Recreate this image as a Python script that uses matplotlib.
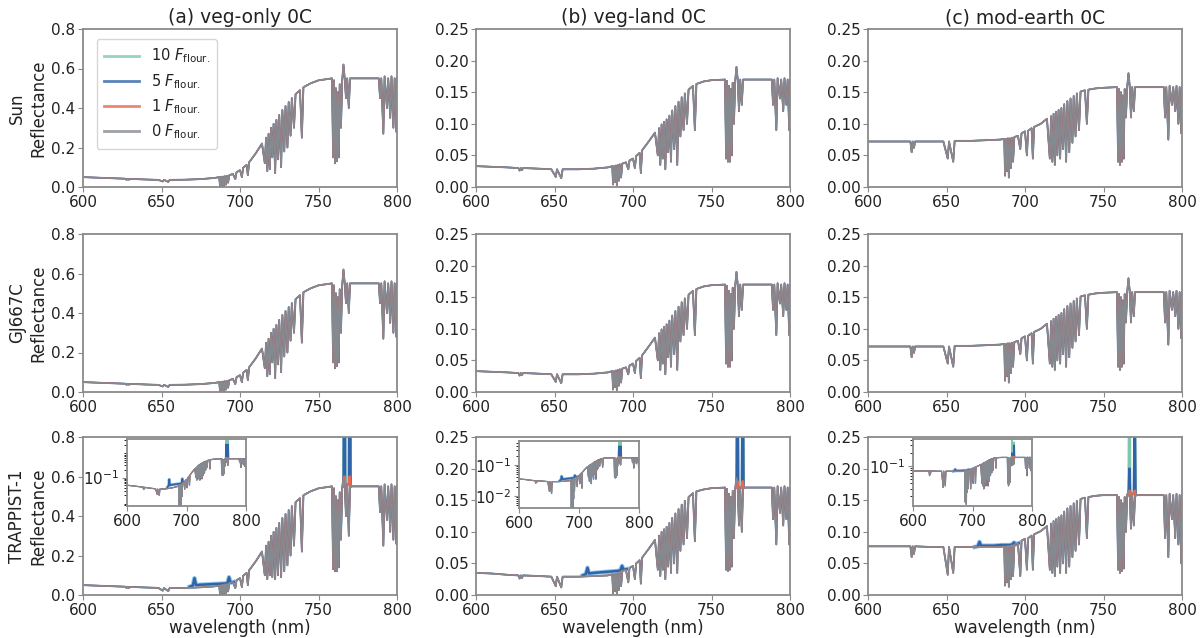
import matplotlib
matplotlib.use('Agg')
import matplotlib.pyplot as plt
from matplotlib.ticker import NullFormatter

# wavelength grid (nm), continuum points with absorption-line points in between
wl = [600, 610, 620, 627, 627.8, 628.5, 629.3, 630, 640, 648,
      650.8, 651.6, 654.3, 655.2, 665, 675, 684, 686.8, 687.3, 687.9,
      688.5, 689.1, 689.7, 690.3, 691.0, 691.6, 692.4, 693.2, 695.5, 697.0,
      697.8, 700, 701.2, 702, 704.2, 705.0, 705.8, 710, 714, 715.8,
      716.6, 717.4, 718.2, 719.0, 719.8, 720.6, 721.4, 722.4, 723.2, 724.2,
      725.0, 726.2, 727.0, 728.2, 729.0, 730.2, 731.0, 732.2, 733.0, 734.4,
      735.4, 738.2, 739.4, 740.4, 745, 750, 758.6, 759.3, 759.9, 760.5,
      761.1, 761.7, 762.3, 762.9, 763.5, 764.3, 765.1, 765.9, 766.7, 767.5,
      768.3, 769.3, 770.1, 775, 785, 788.4, 789.2, 790, 791.3, 792.1,
      793.6, 794.4, 795.7, 796.5, 797.7, 798.5, 799.5, 800]

# Sun / GJ667C rows
refl_veg_only = [0.050, 0.047, 0.044, 0.042, 0.036, 0.042, 0.037, 0.041, 0.038, 0.036,
                 0.028, 0.036, 0.026, 0.036, 0.037, 0.040, 0.046, 0.050, 0.002, 0.051,
                 0.006, 0.053, 0.001, 0.055, 0.012, 0.057, 0.022, 0.060, 0.066, 0.040,
                 0.075, 0.085, 0.050, 0.097, 0.112, 0.060, 0.125, 0.170, 0.220, 0.120,
                 0.250, 0.080, 0.270, 0.090, 0.300, 0.150, 0.320, 0.070, 0.340, 0.140,
                 0.365, 0.100, 0.390, 0.180, 0.410, 0.200, 0.430, 0.260, 0.450, 0.300,
                 0.470, 0.490, 0.250, 0.505, 0.525, 0.540, 0.550, 0.150, 0.540, 0.120,
                 0.500, 0.130, 0.480, 0.150, 0.520, 0.300, 0.540, 0.620, 0.550, 0.450,
                 0.550, 0.400, 0.550, 0.550, 0.550, 0.550, 0.450, 0.550, 0.270, 0.560,
                 0.400, 0.550, 0.350, 0.560, 0.300, 0.550, 0.280, 0.550]

refl_veg_land = [0.033, 0.032, 0.031, 0.030, 0.026, 0.030, 0.027, 0.030, 0.029, 0.028,
                 0.016, 0.028, 0.014, 0.028, 0.028, 0.029, 0.031, 0.033, 0.004, 0.033,
                 0.008, 0.034, 0.003, 0.035, 0.010, 0.036, 0.015, 0.037, 0.039, 0.028,
                 0.042, 0.045, 0.030, 0.049, 0.054, 0.022, 0.058, 0.072, 0.086, 0.050,
                 0.093, 0.035, 0.099, 0.045, 0.103, 0.028, 0.107, 0.055, 0.113, 0.040,
                 0.121, 0.060, 0.128, 0.035, 0.135, 0.080, 0.142, 0.090, 0.148, 0.100,
                 0.154, 0.160, 0.090, 0.163, 0.167, 0.169, 0.170, 0.045, 0.168, 0.040,
                 0.160, 0.040, 0.155, 0.050, 0.165, 0.100, 0.168, 0.190, 0.170, 0.120,
                 0.170, 0.130, 0.170, 0.170, 0.170, 0.170, 0.130, 0.170, 0.090, 0.172,
                 0.140, 0.170, 0.120, 0.172, 0.130, 0.170, 0.090, 0.170]

refl_mod_earth = [0.072, 0.072, 0.072, 0.072, 0.055, 0.072, 0.062, 0.072, 0.072, 0.072,
                  0.045, 0.072, 0.040, 0.073, 0.073, 0.074, 0.075, 0.076, 0.018, 0.076,
                  0.025, 0.077, 0.015, 0.077, 0.030, 0.078, 0.040, 0.079, 0.081, 0.060,
                  0.085, 0.088, 0.050, 0.089, 0.093, 0.045, 0.095, 0.100, 0.108, 0.045,
                  0.112, 0.040, 0.116, 0.035, 0.119, 0.050, 0.122, 0.045, 0.125, 0.060,
                  0.131, 0.040, 0.136, 0.055, 0.140, 0.070, 0.144, 0.080, 0.148, 0.090,
                  0.151, 0.153, 0.100, 0.154, 0.156, 0.157, 0.158, 0.040, 0.155, 0.035,
                  0.150, 0.040, 0.145, 0.045, 0.155, 0.110, 0.158, 0.180, 0.160, 0.110,
                  0.158, 0.120, 0.158, 0.158, 0.158, 0.158, 0.110, 0.158, 0.075, 0.160,
                  0.130, 0.158, 0.120, 0.160, 0.100, 0.158, 0.085, 0.158]

# TRAPPIST-1 row
trap_veg_only = [0.050, 0.047, 0.044, 0.042, 0.035, 0.042, 0.036, 0.041, 0.038, 0.036,
                 0.022, 0.035, 0.020, 0.035, 0.036, 0.039, 0.044, 0.048, 0.001, 0.050,
                 0.004, 0.052, 0.001, 0.054, 0.008, 0.056, 0.018, 0.060, 0.066, 0.035,
                 0.075, 0.085, 0.040, 0.097, 0.112, 0.050, 0.125, 0.170, 0.220, 0.100,
                 0.250, 0.080, 0.270, 0.100, 0.300, 0.090, 0.320, 0.080, 0.340, 0.100,
                 0.365, 0.090, 0.390, 0.120, 0.410, 0.150, 0.430, 0.200, 0.450, 0.250,
                 0.470, 0.490, 0.220, 0.505, 0.525, 0.540, 0.550, 0.130, 0.540, 0.120,
                 0.500, 0.120, 0.480, 0.140, 0.520, 0.280, 0.540, 0.600, 0.560, 0.400,
                 0.560, 0.300, 0.550, 0.550, 0.550, 0.550, 0.420, 0.550, 0.250, 0.560,
                 0.380, 0.550, 0.320, 0.560, 0.280, 0.550, 0.260, 0.550]

trap_veg_land = [0.035, 0.034, 0.032, 0.031, 0.026, 0.031, 0.027, 0.031, 0.030, 0.029,
                 0.014, 0.029, 0.012, 0.029, 0.029, 0.030, 0.031, 0.033, 0.003, 0.033,
                 0.006, 0.034, 0.002, 0.035, 0.008, 0.036, 0.014, 0.038, 0.040, 0.020,
                 0.043, 0.046, 0.025, 0.050, 0.055, 0.018, 0.059, 0.073, 0.087, 0.040,
                 0.094, 0.030, 0.100, 0.040, 0.104, 0.025, 0.108, 0.045, 0.114, 0.035,
                 0.122, 0.050, 0.129, 0.035, 0.136, 0.070, 0.143, 0.080, 0.149, 0.090,
                 0.155, 0.161, 0.085, 0.164, 0.167, 0.169, 0.170, 0.040, 0.168, 0.038,
                 0.160, 0.040, 0.155, 0.045, 0.165, 0.090, 0.168, 0.185, 0.170, 0.110,
                 0.170, 0.100, 0.170, 0.170, 0.170, 0.170, 0.120, 0.170, 0.080, 0.172,
                 0.130, 0.170, 0.110, 0.172, 0.120, 0.170, 0.080, 0.170]

trap_mod_earth = [0.077, 0.077, 0.077, 0.077, 0.060, 0.077, 0.065, 0.077, 0.076, 0.076,
                  0.032, 0.076, 0.035, 0.076, 0.076, 0.076, 0.076, 0.077, 0.015, 0.077,
                  0.020, 0.078, 0.013, 0.078, 0.025, 0.079, 0.030, 0.080, 0.082, 0.030,
                  0.086, 0.089, 0.040, 0.090, 0.094, 0.040, 0.096, 0.101, 0.109, 0.040,
                  0.113, 0.035, 0.117, 0.030, 0.120, 0.045, 0.123, 0.035, 0.126, 0.050,
                  0.132, 0.035, 0.137, 0.045, 0.141, 0.060, 0.145, 0.070, 0.149, 0.080,
                  0.152, 0.154, 0.090, 0.155, 0.157, 0.158, 0.158, 0.040, 0.155, 0.035,
                  0.150, 0.038, 0.145, 0.042, 0.155, 0.100, 0.158, 0.165, 0.160, 0.105,
                  0.158, 0.110, 0.158, 0.158, 0.158, 0.158, 0.090, 0.158, 0.060, 0.160,
                  0.120, 0.158, 0.090, 0.160, 0.080, 0.158, 0.050, 0.158]

# fluorescence features seen only for TRAPPIST-1 (K I lines and 670-695 nm excess)
spike_wl = [766.0, 766.5, 767.0, 769.4, 769.9, 770.4]
spike_veg_only = {'10': [0.55, 3.0, 0.56, 0.56, 3.0, 0.55],
                  '5': [0.55, 2.0, 0.56, 0.56, 2.0, 0.55],
                  '1': [0.55, 0.60, 0.56, 0.56, 0.60, 0.55]}
spike_veg_land = {'10': [0.17, 0.55, 0.17, 0.17, 0.55, 0.17],
                  '5': [0.17, 0.40, 0.17, 0.17, 0.40, 0.17],
                  '1': [0.17, 0.18, 0.17, 0.17, 0.18, 0.17]}
spike_mod_earth = {'10': [0.158, 0.40, 0.16, 0.16, 0.35, 0.158],
                   '5': [0.158, 0.20, 0.16, 0.16, 0.30, 0.158],
                   '1': [0.158, 0.165, 0.16, 0.16, 0.165, 0.158]}

bump_wl = [668, 670, 671, 672, 675, 680, 685, 690, 692, 693, 694, 696]
bump_veg_only = [0.042, 0.048, 0.085, 0.050, 0.052, 0.054, 0.056, 0.058, 0.060, 0.090, 0.062, 0.066]
bump_veg_land = [0.031, 0.033, 0.043, 0.034, 0.035, 0.036, 0.037, 0.038, 0.039, 0.046, 0.040, 0.041]
bump_mod_earth = [0.076, 0.077, 0.084, 0.078, 0.078, 0.078, 0.079, 0.079, 0.080, 0.083, 0.080, 0.082]

titles = ['(a) veg-only 0C', '(b) veg-land 0C', '(c) mod-earth 0C']
stars = ['Sun', 'GJ667C', 'TRAPPIST-1']
flour_levels = ['10', '5', '1', '0']
colors = {'10': '#7cc8ac', '5': '#2f64a8', '1': '#e8684f', '0': '#858990'}
widths = {'10': 1.1, '5': 1.3, '1': 1.0, '0': 1.0}

W, H = 1203, 638
fig = plt.figure(figsize=(W / 100, H / 100), dpi=100)
txt = '#222222'
edge = '#8a8a8a'


def px_axes(x0, y0, x1, y1):
    return fig.add_axes([x0 / W, 1 - y1 / H, (x1 - x0) / W, (y1 - y0) / H])


def style(ax, fs=11):
    for s in ax.spines.values():
        s.set_color(edge)
        s.set_linewidth(1.3)
    ax.tick_params(colors=edge, labelcolor=txt, labelsize=fs, pad=2, length=3.5)


def draw(ax, y, spikes=None, bump=None, scale=1.0):
    for k in flour_levels:
        ax.plot(wl, y, color=colors[k], lw=widths[k] * scale,
                label=r'%s $F_{\rm flour.}$' % k)
        if k == '5' and bump is not None:
            ax.plot(bump_wl, bump, color='#8fc3ea', lw=3.2 * scale)
            ax.plot(bump_wl, bump, color=colors[k], lw=1.8 * scale)
        if k != '0' and spikes is not None:
            ax.plot(spike_wl, spikes[k], color=colors[k], lw=1.8 * scale)


col_left = [83, 476, 868]
row_top = [29, 234, 437]
base = [refl_veg_only, refl_veg_land, refl_mod_earth]
trap = [trap_veg_only, trap_veg_land, trap_mod_earth]
spikes = [spike_veg_only, spike_veg_land, spike_mod_earth]
bumps = [bump_veg_only, bump_veg_land, bump_mod_earth]
ymax = [0.8, 0.25, 0.25]
yticks = [[0, 0.2, 0.4, 0.6, 0.8], [0, 0.05, 0.10, 0.15, 0.20, 0.25], [0, 0.05, 0.10, 0.15, 0.20, 0.25]]
ytl = [['0.0', '0.2', '0.4', '0.6', '0.8'],
       ['0.00', '0.05', '0.10', '0.15', '0.20', '0.25'],
       ['0.00', '0.05', '0.10', '0.15', '0.20', '0.25']]

for r in range(3):
    for c in range(3):
        ax = px_axes(col_left[c], row_top[r], col_left[c] + 314, row_top[r] + 158)
        if r < 2:
            draw(ax, base[c])
        else:
            draw(ax, trap[c], spikes[c], bumps[c])
        ax.set_xlim(600, 800)
        ax.set_ylim(0, ymax[c])
        ax.set_xticks([600, 650, 700, 750, 800])
        ax.set_yticks(yticks[c])
        ax.set_yticklabels(ytl[c])
        style(ax)
        if r == 0:
            ax.set_title(titles[c], fontsize=13.5, color=txt, pad=4)
        if c == 0:
            ax.set_ylabel(stars[r] + '\nReflectance', fontsize=12, color=txt, labelpad=3)
        if r == 2:
            ax.set_xlabel('wavelength (nm)', fontsize=12, color=txt, labelpad=1)
        if r == 0 and c == 0:
            leg = ax.legend(loc='upper left', fontsize=10.5, frameon=True,
                            handlelength=2.4, borderpad=0.5, labelspacing=0.45,
                            bbox_to_anchor=(0.02, 0.98))
            leg.get_frame().set_edgecolor('#cccccc')
            for h in leg.get_lines():
                h.set_linewidth(2.0)
                h.set_alpha(0.8)
            for t in leg.get_texts():
                t.set_color(txt)

# log-scale insets in the TRAPPIST-1 row
inset_px = [(127, 439, 246, 506), (519, 441, 639, 508), (913, 439, 1032, 506)]
inset_ylim = [(0.0076, 3.3), (0.0041, 0.59), (0.012, 0.42)]
inset_ticks = [[0.1], [0.01, 0.1], [0.1]]
for c in range(3):
    ia = px_axes(*inset_px[c])
    ia.set_facecolor('white')
    draw(ia, trap[c], spikes[c], bumps[c], scale=0.7)
    ia.set_yscale('log')
    ia.set_xlim(600, 800)
    ia.set_ylim(*inset_ylim[c])
    ia.set_xticks([600, 700, 800])
    ia.set_yticks(inset_ticks[c])
    ia.yaxis.set_minor_formatter(NullFormatter())
    style(ia)

fig.savefig('out.png', dpi=100, facecolor='white')
